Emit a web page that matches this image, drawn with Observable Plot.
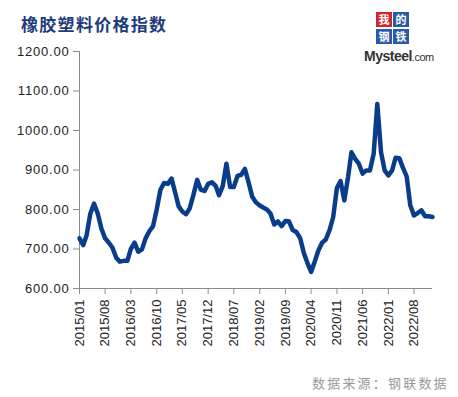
<!DOCTYPE html>
<html>
<head>
<meta charset="utf-8">
<script src="https://cdn.jsdelivr.net/npm/d3@7"></script>
<script src="https://cdn.jsdelivr.net/npm/@observablehq/plot@0.6"></script>
<style>
  html, body { margin: 0; padding: 0; background: #fff; }
  #wrap { position: relative; width: 458px; height: 397px; overflow: hidden; font-family: "Liberation Sans", Arial, sans-serif; }
  #chart { position: absolute; left: 0; top: 0; }
  #chart g[aria-label="y-axis tick label"] text { letter-spacing: 0.8px; }
  #title { position: absolute; left: 21px; top: 11px; font-family: "Noto Sans CJK SC", sans-serif; font-weight: 700; font-size: 17px; color: #1d3c7c; letter-spacing: 1.3px; }
  #caption { position: absolute; left: 312px; top: 373px; font-family: "Noto Sans CJK SC", sans-serif; font-size: 13px; color: #9a9a9a; letter-spacing: 2.2px; }
  #logo { position: absolute; left: 364px; top: 10px; width: 80px; height: 58px; }
  .box { position: absolute; width: 16px; height: 15px; color: #fff; font-family: "Noto Sans CJK SC", sans-serif; font-weight: 700; font-size: 11px; line-height: 15px; text-align: center; overflow: hidden; }
  #mys { position: absolute; left: 0px; top: 38px; font-family: "Liberation Sans", Arial, sans-serif; font-weight: 700; font-size: 14px; line-height: 16px; color: #333; letter-spacing: -0.5px; }
  #mys span { font-size: 11px; font-weight: 400; }
</style>
</head>
<body>
<div id="wrap">
  <div id="title"></div>
  <div id="logo">
    <div class="box" style="left:12px;top:2px;background:#d3262b;">我</div>
    <div class="box" style="left:29px;top:2px;background:#2a5aa8;">的</div>
    <div class="box" style="left:12px;top:19px;background:#2a5aa8;">钢</div>
    <div class="box" style="left:29px;top:19px;background:#2a5aa8;">铁</div>
    <div id="mys">Mysteel<span>.com</span></div>
  </div>
  <div id="chart"></div>
  <div id="caption"></div>
</div>
<script>
const titleText = "橡胶塑料价格指数";
const captionText = "数据来源：钢联数据";
const startYear = 2015;
const startMonth = 1;
// monthly index values, 2015/01 .. 2023/01
const values = [
  727, 710, 735, 790, 815, 790, 752, 727, 716, 703, 678, 668,
  670, 670, 700, 716, 693, 699, 727, 745, 758, 800, 850, 867,
  865, 878, 845, 808, 795, 788, 803, 837, 875, 850, 847, 865,
  869, 860, 836, 860, 916, 857, 857, 885, 888, 903, 868, 832,
  818, 810, 805, 800, 790, 762, 770, 758, 771, 770, 748, 743,
  728, 690, 665, 642, 668, 697, 716, 724, 748, 781, 855, 872,
  823, 882, 945, 928, 916, 891, 899, 899, 941, 1067, 945, 899,
  886, 899, 931, 930, 906, 884, 811, 785, 791, 798, 783, 783,
  781
];
const tickLabels = ["2015/01","2015/08","2016/03","2016/10","2017/05","2017/12","2018/07",
  "2019/02","2019/09","2020/04","2020/11","2021/06","2022/01","2022/08"];
const yTicks = [600, 700, 800, 900, 1000, 1100, 1200];

document.getElementById("title").textContent = titleText;
document.getElementById("caption").textContent = captionText;

const data = values.map((v, i) => ({date: new Date(Date.UTC(startYear, startMonth - 1 + i, 1)), value: v}));
const parseLabel = s => { const [y, m] = s.split("/").map(Number); return new Date(Date.UTC(y, m - 1, 1)); };
const tickDates = tickLabels.map(parseLabel);
const fmt = d3.utcFormat("%Y/%m");
const axisColor = "#8c8c8c";

const chart = Plot.plot({
  width: 458,
  height: 360,
  marginTop: 51,
  marginBottom: 72,
  marginLeft: 79,
  marginRight: 26,
  style: {fontFamily: "'Liberation Sans', Arial, sans-serif", fontSize: "13px", color: "#222", background: "transparent"},
  x: {type: "utc", domain: [data[0].date, data[data.length - 1].date]},
  y: {domain: [600, 1200]},
  marks: [
    Plot.ruleX([data[0].date], {stroke: axisColor, strokeWidth: 1}),
    Plot.ruleY([600], {stroke: axisColor, strokeWidth: 1}),
    Plot.axisY({ticks: yTicks, tickFormat: d => d.toFixed(2), tickSize: 6, tickPadding: 4, stroke: axisColor, label: null, fontSize: 13}),
    Plot.axisX({ticks: tickDates, tickFormat: fmt, tickRotate: -90, tickSize: 6, tickPadding: 5, stroke: axisColor, label: null, fontSize: 13}),
    Plot.line(data, {x: "date", y: "value", stroke: "#0a3c8c", strokeWidth: 4.5, strokeLinejoin: "round", strokeLinecap: "round"})
  ]
});
document.getElementById("chart").appendChild(chart);
</script>
</body>
</html>
